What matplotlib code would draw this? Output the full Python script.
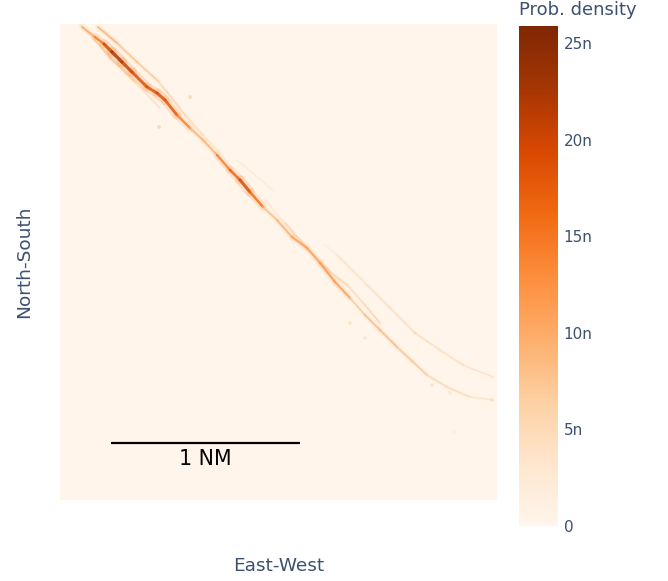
import numpy as np
import matplotlib
matplotlib.use('Agg')
import matplotlib.pyplot as plt
from matplotlib.collections import LineCollection

# tracks in grid cells (east, north) with density in units of 1e-9
main_x = [22, 35, 44, 52, 62, 72, 87, 97, 105, 117, 130, 143, 157, 170, 180, 190, 203, 217, 232, 247, 260, 275, 290, 305, 320, 337, 352, 367, 387, 410, 433]
main_y = [473, 463, 456, 448, 438, 428, 413, 407, 400, 385, 372, 360, 345, 330, 320, 308, 293, 280, 263, 252, 237, 218, 202, 185, 170, 153, 139, 125, 113, 103, 100]
main_d = [8, 13, 17, 24, 22, 20, 19, 19, 20, 17, 12, 8, 12, 17, 17, 23, 9, 8, 12, 12, 10, 15, 8, 7, 11, 7, 9, 6, 6, 5, 3]

upper_x = [38, 57, 77, 97, 107, 125, 143, 160]
upper_y = [473, 457, 438, 420, 408, 385, 365, 347]
upper_d = [12, 7, 9, 6, 6, 6, 5, 3]

left_x = [20, 35, 50, 75, 100]
left_y = [476, 460, 442, 418, 392]
left_d = [3, 6, 8, 6, 3]

mid_x = [205, 225, 247, 270, 287, 305, 320]
mid_y = [300, 277, 252, 228, 215, 195, 177]
mid_d = [3, 4, 9, 6, 7, 4, 8]

faint_x = [177, 195, 213]
faint_y = [340, 325, 310]
faint_d = [2, 3.5, 1.5]

east_x = [265, 277, 307, 330, 355, 380, 403, 433]
east_y = [255, 245, 215, 192, 167, 150, 135, 123]
east_d = [1, 4, 5, 5, 5, 5, 4.5, 4]

spot_x = [130, 99, 290, 305, 372, 390, 432, 394, 335, 355]
spot_y = [403, 373, 177, 162, 115, 107, 100, 68, 155, 167]
spot_d = [5, 5, 4, 3, 3, 3, 5, 1.5, 2, 3]

tracks = [(left_x, left_y, left_d), (upper_x, upper_y, upper_d), (faint_x, faint_y, faint_d),
          (east_x, east_y, east_d), (mid_x, mid_y, mid_d), (main_x, main_y, main_d)]

cbar_ticks = [0, 5, 10, 15, 20, 25]
cbar_labels = ['0', '5n', '10n', '15n', '20n', '25n']

W, H = 668, 581
BG = '#fff5eb'
TEXT = '#3d5070'
norm = plt.Normalize(0, 25.9)
cmap = plt.get_cmap('Oranges')

fig = plt.figure(figsize=(W / 100, H / 100), dpi=100)
ax = fig.add_axes([60 / W, 1 - 500 / H, 437 / W, 476 / H])
ax.set_facecolor(BG)
ax.set_xlim(0, 437)
ax.set_ylim(0, 476)
ax.set_xticks([])
ax.set_yticks([])
for s in ax.spines.values():
    s.set_visible(False)

for tx, ty, td in tracks:
    pts = np.column_stack([tx, ty]).reshape(-1, 1, 2)
    segs = np.concatenate([pts[:-1], pts[1:]], axis=1)
    d = (np.array(td[:-1]) + np.array(td[1:])) / 2
    # soft halo first, then the core of the track
    halo = LineCollection(segs, colors=cmap(norm(d * 0.6)), linewidths=1.0 + d * 0.3, alpha=0.25, capstyle='round')
    core = LineCollection(segs, colors=cmap(norm(d)), linewidths=0.6 + d * 0.08, alpha=0.8, capstyle='round')
    ax.add_collection(halo)
    ax.add_collection(core)

ax.scatter(spot_x, spot_y, c=spot_d, cmap=cmap, norm=norm, s=7, linewidths=0)

# scale bar
ax.plot([51, 240], [57, 57], color='black', lw=1.6, solid_capstyle='butt')
ax.text(145, 41, '1 NM', ha='center', va='center', fontsize=14.8, color='black')

fig.text(279 / W, 1 - 566 / H, 'East-West', ha='center', va='center', fontsize=13.3, color=TEXT)
fig.text(24 / W, 1 - 262 / H, 'North-South', ha='center', va='center', rotation=90, fontsize=13.3, color=TEXT)

cax = fig.add_axes([519 / W, 1 - 526 / H, 39 / W, 500 / H])
cb = fig.colorbar(plt.cm.ScalarMappable(norm=norm, cmap=cmap), cax=cax)
cb.set_ticks(cbar_ticks)
cb.set_ticklabels(cbar_labels)
cb.ax.tick_params(length=0, labelsize=11, labelcolor=TEXT, pad=4)
cb.outline.set_visible(False)
fig.text(519 / W, 1 - 10 / H, 'Prob. density', ha='left', va='center', fontsize=13, color=TEXT)

fig.savefig('out.png', dpi=100)
